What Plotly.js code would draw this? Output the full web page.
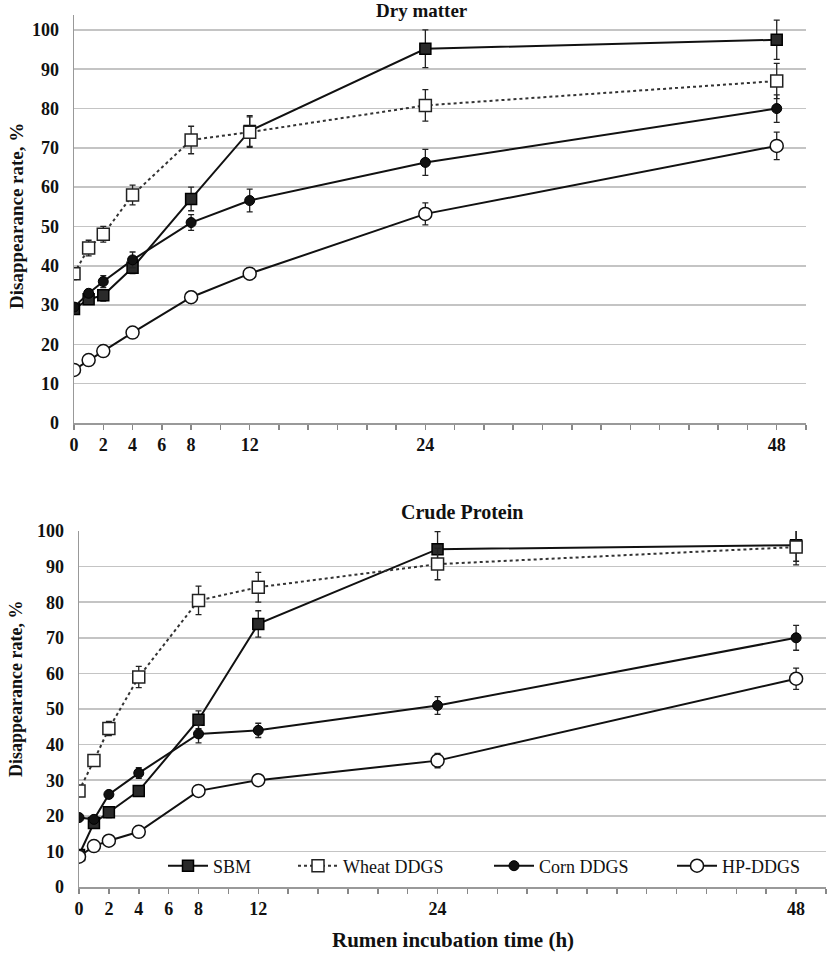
<!DOCTYPE html>
<html>
<head>
<meta charset="utf-8">
<script src="https://cdn.plot.ly/plotly-3.0.1.min.js"></script>
<style>html,body{margin:0;padding:0;background:#fff;}#chart{width:827px;height:953px;}</style>
</head>
<body>
<div id="chart"></div>
<script>
// ---- data ----
var hours = [0, 1, 2, 4, 8, 12, 24, 48];
var seriesNames = ["SBM", "Wheat DDGS", "Corn DDGS", "HP-DDGS"];

// Dry matter disappearance (%)
var dmSBM   = [29, 31.5, 32.5, 39.5, 57, 74.3, 95.2, 97.5];
var dmWheat = [38, 44.5, 48, 58, 72, 74, 80.8, 87];
var dmCorn  = [29.5, 33, 36, 41.5, 51, 56.6, 66.3, 80];
var dmHP    = [13.5, 16, 18.3, 23, 32, 38, 53.2, 70.5];
var dmSBMerr   = [1, 1, 1.5, 1.5, 3, 3.9, 4.8, 5];
var dmWheatErr = [1.5, 2, 2, 2.5, 3.5, 3.9, 4, 4.5];
var dmCornErr  = [1, 1, 1.5, 2, 2, 2.9, 3.3, 3.5];
var dmHPerr    = [1, 1, 1, 1, 1.5, 1.5, 2.8, 3.5];

// Crude protein disappearance (%)
var cpSBM   = [9, 18, 21, 27, 47, 73.9, 94.9, 96];
var cpWheat = [27, 35.5, 44.5, 59, 80.5, 84.2, 90.7, 95.5];
var cpCorn  = [19.5, 19, 26, 32, 43, 44, 51, 70];
var cpHP    = [8.5, 11.5, 13, 15.5, 27, 30, 35.5, 58.5];
var cpSBMerr   = [1, 1.5, 1.5, 1.5, 2.5, 3.7, 4.9, 4.5];
var cpWheatErr = [1, 1.5, 2, 3, 4, 4.2, 4.4, 5];
var cpCornErr  = [1, 1, 1, 1.5, 2.5, 2, 2.5, 3.5];
var cpHPerr    = [1, 1, 1, 1, 1, 1, 2, 3];

// axis ticks
var xTickVals = [0,2,4,6,8,10,12,14,16,18,20,22,24,26,28,30,32,34,36,38,40,42,44,46,48,50];
var xLabeled  = [0, 2, 4, 6, 8, 12, 24, 48];
var yTickVals = [0,10,20,30,40,50,60,70,80,90,100];
var chartTitles = ["Dry matter", "Crude Protein"];
var yTitle = "Disappearance rate, %";
var xTitle = "Rumen incubation time (h)";

// ---- build ----
var W = 827, H = 953;
function px(x){ return x / W; }
function py(y){ return 1 - y / H; }
var FONT = "Liberation Serif, Times New Roman, serif";
var xTickText = xTickVals.map(function(v){ return xLabeled.indexOf(v) >= 0 ? String(v) : ""; });

var styles = [
  {marker:{symbol:"square", size:11, color:"#2a2a2a", line:{color:"#000", width:1.5}}, line:{color:"#111", width:2, dash:"solid"}},
  {marker:{symbol:"square", size:12, color:"#fff", line:{color:"#222", width:1.5}}, line:{color:"#333", width:2, dash:"dot"}},
  {marker:{symbol:"circle", size:10, color:"#111", line:{color:"#000", width:1}}, line:{color:"#111", width:2, dash:"solid"}},
  {marker:{symbol:"circle", size:13, color:"#fff", line:{color:"#111", width:1.5}}, line:{color:"#111", width:2, dash:"solid"}}
];
var legendIds = ["legend", "legend2", "legend3", "legend4"];
var legendX = [163, 293, 489, 672];

function mk(idx, ys, errs, xa, ya, showLeg){
  return {
    type:"scatter", mode:"lines+markers", x:hours, y:ys,
    name:seriesNames[idx], xaxis:xa, yaxis:ya, showlegend:showLeg, legend:legendIds[idx],
    marker:styles[idx].marker, line:styles[idx].line,
    error_y:{type:"data", array:errs, visible:true, color:"#222", thickness:1.3, width:3}
  };
}

var data = [
  mk(0, dmSBM, dmSBMerr, "x", "y", false),
  mk(1, dmWheat, dmWheatErr, "x", "y", false),
  mk(2, dmCorn, dmCornErr, "x", "y", false),
  mk(3, dmHP, dmHPerr, "x", "y", false),
  mk(0, cpSBM, cpSBMerr, "x2", "y2", true),
  mk(1, cpWheat, cpWheatErr, "x2", "y2", true),
  mk(2, cpCorn, cpCornErr, "x2", "y2", true),
  mk(3, cpHP, cpHPerr, "x2", "y2", true)
];

var tickFont = {family:FONT, size:18, color:"#111", weight:"bold"};
function xaxisCfg(dom, anchor){
  return {domain:dom, anchor:anchor, range:[0,50], tickmode:"array", tickvals:xTickVals, ticktext:xTickText,
    ticks:"outside", ticklen:5, tickwidth:1.5, tickcolor:"#888", showgrid:false, zeroline:false,
    showline:true, linecolor:"#999", linewidth:1.5, tickfont:tickFont, fixedrange:true};
}
function yaxisCfg(dom, anchor, rng){
  return {domain:dom, anchor:anchor, range:rng, tickmode:"array", tickvals:yTickVals,
    ticks:"", showgrid:true, gridcolor:"#c4c4c4", gridwidth:1.5, zeroline:false,
    showline:true, linecolor:"#999", linewidth:1.5, tickfont:tickFont, ticklabelstandoff:10, fixedrange:true};
}

var layout = {
  width:W, height:H, margin:{l:0, r:0, t:0, b:0},
  paper_bgcolor:"#fff", plot_bgcolor:"#fff",
  font:{family:FONT, color:"#111"},
  xaxis: xaxisCfg([px(74), px(806)], "y"),
  yaxis: yaxisCfg([py(423), py(15)], "x", [0,103.8]),
  xaxis2: xaxisCfg([px(79), px(826)], "y2"),
  yaxis2: yaxisCfg([py(887), py(531)], "x2", [0,100]),
  showlegend:true,
  annotations:[
    {text:chartTitles[0], xref:"paper", yref:"paper", x:px(422), y:py(10), showarrow:false,
      font:{family:FONT, size:19, weight:"bold", color:"#111"}, xanchor:"center", yanchor:"middle"},
    {text:chartTitles[1], xref:"paper", yref:"paper", x:px(462), y:py(512), showarrow:false,
      font:{family:FONT, size:20, weight:"bold", color:"#111"}, xanchor:"center", yanchor:"middle"},
    {text:yTitle, xref:"paper", yref:"paper", x:px(16), y:py(216), showarrow:false, textangle:-90,
      font:{family:FONT, size:19, weight:"bold", color:"#111"}, xanchor:"center", yanchor:"middle"},
    {text:yTitle, xref:"paper", yref:"paper", x:px(16), y:py(689), showarrow:false, textangle:-90,
      font:{family:FONT, size:18, weight:"bold", color:"#111"}, xanchor:"center", yanchor:"middle"},
    {text:xTitle, xref:"paper", yref:"paper", x:px(453), y:py(940), showarrow:false,
      font:{family:FONT, size:21, weight:"bold", color:"#111"}, xanchor:"center", yanchor:"middle"}
  ]
};
legendIds.forEach(function(id, i){
  layout[id] = {orientation:"h", x:px(legendX[i]), y:py(866), xanchor:"left", yanchor:"middle",
    bgcolor:"rgba(0,0,0,0)", font:{family:FONT, size:18, color:"#111"}, itemwidth:40};
});

Plotly.newPlot("chart", data, layout, {displayModeBar:false, staticPlot:true});
</script>
</body>
</html>
